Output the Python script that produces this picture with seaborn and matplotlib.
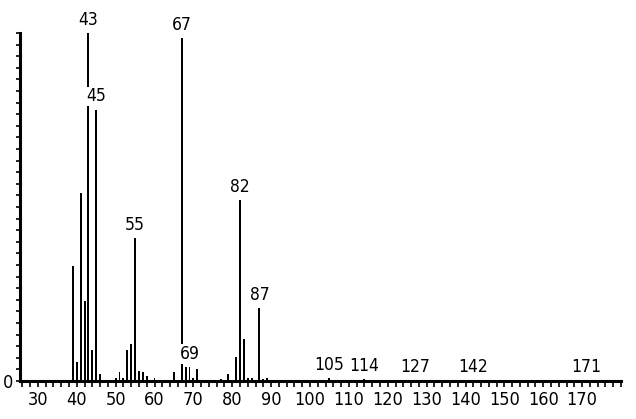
#!/usr/bin/env python3
"""
Mass spectrum stick plot (EI), relative abundance vs m/z.
"""
import numpy as np
import pandas as pd
import matplotlib
matplotlib.use("Agg")
import matplotlib.pyplot as plt
from matplotlib.ticker import MultipleLocator, FixedLocator
import seaborn as sns

# m/z values and relative intensities (% of base peak 43)
mz = [39, 40, 41, 42, 43, 44, 45, 46, 50, 51, 52, 53, 54, 55, 56, 57, 58, 60,
      65, 67, 68, 69, 70, 71, 77, 79, 81, 82, 83, 84, 85, 87, 88, 89,
      105, 114, 127, 142, 171]
intensity = [33, 5.5, 54, 23, 100, 9, 78, 2, 1, 2.5, 1, 9, 10.5, 41, 3, 2.5, 1.5, 1,
             2.5, 98.6, 4, 4, 1, 3.5, 0.5, 2, 7, 52, 12, 1, 1, 21, 0.5, 1,
             0.8, 0.5, 0.3, 0.3, 0.3]

# peaks that carry an m/z label
labelled = [43, 45, 55, 67, 69, 82, 87, 105, 114, 127, 142, 171]

XMIN, XMAX = 25.4, 180

sns.set_style("ticks")
plt.rcParams['font.family'] = ['DejaVu Sans']
plt.rcParams['font.stretch'] = 'condensed'

df = pd.DataFrame({'mz': mz, 'intensity': intensity})

fig = plt.figure(figsize=(6.36, 4.19), dpi=100)
ax = fig.add_axes([20 / 636, 1 - 381 / 419, 601 / 636, 348 / 419])

sns.barplot(data=df, x='mz', y='intensity', native_scale=True, width=0.5,
            color='black', linewidth=0, errorbar=None, ax=ax)

# labels above the tagged peaks (white backing hides the 67 stick behind "69")
lookup = dict(zip(mz, intensity))
for m in labelled:
    ax.annotate(str(m), xy=(m, lookup[m]), xytext=(0, 3),
                textcoords='offset points', ha='center', va='bottom',
                fontsize=12.5, color='black', annotation_clip=False,
                bbox=dict(facecolor='white', edgecolor='none', pad=0.5))

ax.set_xlim(XMIN, XMAX)
ax.set_ylim(0, 100)
ax.set_xlabel('')
ax.set_ylabel('')

ax.xaxis.set_minor_locator(MultipleLocator(2))
ax.set_xticks(np.arange(30, 180, 10))
ax.set_xticklabels([str(v) for v in range(30, 180, 10)])
ax.yaxis.set_major_locator(FixedLocator([0]))
ax.yaxis.set_minor_locator(MultipleLocator(100 / 30))
ax.set_yticklabels(['0'])

ax.tick_params(axis='x', which='both', direction='out', length=4, width=1.2,
               pad=3, labelsize=13, colors='black')
ax.tick_params(axis='y', which='both', direction='out', length=3, width=1.2,
               pad=2, labelsize=13, colors='black')

sns.despine(ax=ax)
for side in ['left', 'bottom']:
    ax.spines[side].set_linewidth(2.2)
    ax.spines[side].set_color('black')

fig.savefig('out.png', dpi=100)
plt.close(fig)
